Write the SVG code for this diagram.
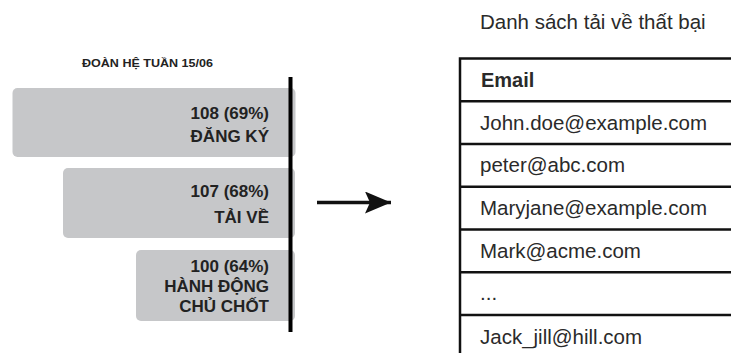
<svg xmlns="http://www.w3.org/2000/svg" width="731" height="353" viewBox="0 0 731 353">
<style>
.bar{fill:#c6c7c9;}
.lbl{font-family:"Liberation Sans",Arial,sans-serif;font-weight:bold;font-size:17px;fill:#222;text-anchor:end;}
.ttl{font-family:"Liberation Sans",Arial,sans-serif;font-weight:bold;font-size:10px;fill:#222;}
.hd{font-family:"Liberation Sans",Arial,sans-serif;font-size:20px;fill:#2a2a2a;}
.cell{font-family:"Liberation Sans",Arial,sans-serif;font-size:20.5px;fill:#2a2a2a;}
.grid{stroke:#111;stroke-width:2.5;fill:none;}
</style>
<defs>
<marker id="ah" markerUnits="userSpaceOnUse" markerWidth="30" markerHeight="24" refX="26" refY="11" orient="auto">
<path d="M0,0 L26,11 L0,22 L5,11 Z" fill="#111"/>
</marker>
</defs>
<rect width="731" height="353" fill="#fff"/>
<g id="funnel-title">
<text class="ttl" x="82" y="67" textLength="131" lengthAdjust="spacingAndGlyphs">ĐOÀN HỆ TUẦN 15/06</text>
</g>
<g id="bar-dang-ky">
<rect class="bar" x="12.5" y="88" width="283" height="69" rx="5"/>
<text class="lbl" x="269" y="119">108 (69%)</text>
<text class="lbl" x="269" y="142">ĐĂNG KÝ</text>
</g>
<g id="bar-tai-ve">
<rect class="bar" x="63" y="168" width="232" height="70" rx="5"/>
<text class="lbl" x="269" y="197">107 (68%)</text>
<text class="lbl" x="269" y="223">TẢI VỀ</text>
</g>
<g id="bar-hanh-dong">
<rect class="bar" x="136" y="250" width="159" height="71" rx="5"/>
<text class="lbl" x="269" y="272">100 (64%)</text>
<text class="lbl" x="269" y="292">HÀNH ĐỘNG</text>
<text class="lbl" x="269" y="312">CHỦ CHỐT</text>
</g>
<g id="axis">
<line x1="290.5" y1="77" x2="290.5" y2="332" stroke="#000" stroke-width="4"/>
</g>
<g id="connectors">
<line x1="317" y1="202.5" x2="391" y2="202.5" stroke="#111" stroke-width="3.5" marker-end="url(#ah)"/>
</g>
<g id="table-title">
<text class="cell" x="480" y="29" font-size="21">Danh sách tải về thất bại</text>
</g>
<g id="table">
<path class="grid" d="M733,58.5 H460 V355"/>
<path class="grid" d="M460,101.25 H733 M460,144 H733 M460,186.75 H733 M460,229.5 H733 M460,272.25 H733 M460,315 H733"/>
<text class="hd" x="481" y="87" font-weight="bold">Email</text>
<text class="cell" x="480" y="130">John.doe@example.com</text>
<text class="cell" x="480" y="172">peter@abc.com</text>
<text class="cell" x="480" y="215">Maryjane@example.com</text>
<text class="cell" x="480" y="258">Mark@acme.com</text>
<text class="cell" x="480" y="300">...</text>
<text class="cell" x="480" y="344">Jack_jill@hill.com</text>
</g>
</svg>
